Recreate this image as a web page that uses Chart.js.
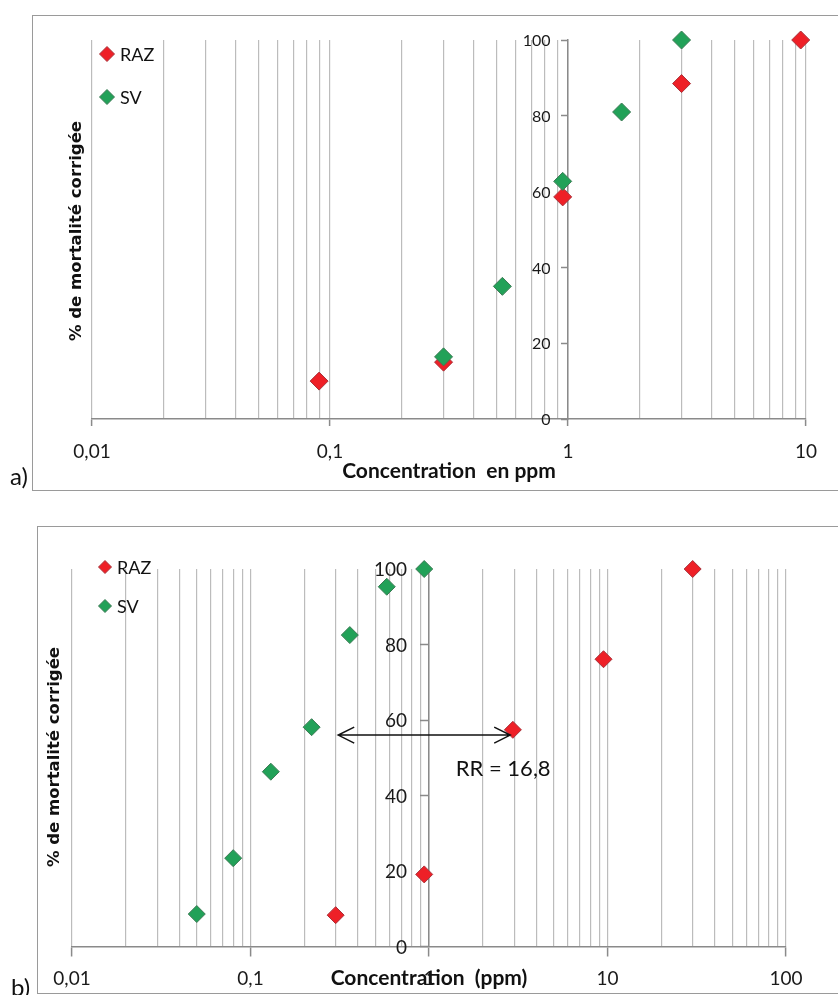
<!DOCTYPE html>
<html>
<head>
<meta charset="utf-8">
<script src="https://cdn.jsdelivr.net/npm/chart.js@4.4.1/dist/chart.umd.min.js"></script>
<style>
  body { margin: 0; background: #fff; width: 838px; height: 995px; overflow: hidden; position: relative; }
  .frame { position: absolute; border: 1.5px solid #9a9a9a; border-right: none; }
  canvas { position: absolute; left: 0; }
  .tag { position: absolute; font: 24px Lato, sans-serif; color: #111; }
</style>
</head>
<body>
<div class="frame" style="left:32px; top:15px; width:820px; height:474px;"></div>
<div class="frame" style="left:37px; top:526px; width:820px; height:466px;"></div>
<canvas id="chartA" width="838" height="495" style="top:0"></canvas>
<canvas id="chartB" width="838" height="495" style="top:500px"></canvas>
<div class="tag" style="left:10px; top:461px;">a)</div>
<div class="tag" style="left:11px; top:972px;">b)</div>

<script>
// Panel a) - concentration (ppm) vs corrected mortality (%)
const razA_x = [0.09, 0.3, 0.95, 3, 9.5];
const razA_y = [10, 15, 58.6, 88.5, 100];
const svA_x = [0.3, 0.53, 0.95, 1.68, 3];
const svA_y = [16.4, 35, 62.7, 81, 100];

// Panel b)
const razB_x = [0.3, 0.94, 2.95, 9.5, 30];
const razB_y = [8.3, 19.1, 57.4, 76.1, 100];
const svB_x = [0.05, 0.08, 0.13, 0.22, 0.36, 0.58, 0.94];
const svB_y = [8.6, 23.4, 46.3, 58.1, 82.5, 95.3, 100];

const seriesNames = ['RAZ', 'SV'];
const yTicks = [0, 20, 40, 60, 80, 100];
const xRangeA = [0.01, 10];
const xRangeB = [0.01, 100];

// resistance ratio arrow drawn on panel b)
const rrFrom = 0.31, rrTo = 2.85, rrLevel = 56;
const rrLabel = 'RR = 16,8';

const RED = '#ee2027', RED_EDGE = '#a8323a';
const GREEN = '#22a158', GREEN_EDGE = '#3d7a55';
const FONT = 'Lato, sans-serif';

function pairs(xs, ys) {
    return xs.map((x, i) => ({ x: x, y: ys[i] }));
}

function isPow10(v) {
    const l = Math.log10(v);
    return Math.abs(l - Math.round(l)) < 1e-6;
}

// keep only 1..9 x 10^n ticks (chart.js also adds 1.5 x 10^n)
function keepWholeSteps(scale) {
    scale.ticks = scale.ticks.filter(t => {
        const m = t.value / Math.pow(10, Math.floor(Math.log10(t.value) + 1e-9));
        return Math.abs(m - Math.round(m)) < 1e-6;
    });
}

function diamond(ctx, x, y, r, fill, edge) {
    ctx.beginPath();
    ctx.moveTo(x, y - r);
    ctx.lineTo(x + r, y);
    ctx.lineTo(x, y + r);
    ctx.lineTo(x - r, y);
    ctx.closePath();
    ctx.fillStyle = fill;
    ctx.fill();
    ctx.lineWidth = 1;
    ctx.strokeStyle = edge;
    ctx.stroke();
}

// y labels beside the crossing axis, legend, rotated y title and the RR arrow
function decorPlugin(cfg) {
    return {
        id: 'decor',
        beforeDatasetsDraw(chart) {
            const ctx = chart.ctx;
            const ys = chart.scales.y;
            const axisX = chart.scales.x.getPixelForValue(1);
            ctx.save();
            ctx.font = cfg.yFont + 'px ' + FONT;
            ctx.fillStyle = '#1a1a1a';
            ctx.textAlign = 'right';
            ctx.textBaseline = 'middle';
            ys.ticks.forEach(t => {
                ctx.fillText(String(t.value), axisX - cfg.yLabelGap, ys.getPixelForValue(t.value) + 1);
            });
            ctx.restore();
        },
        afterDraw(chart) {
            const ctx = chart.ctx;
            ctx.save();
            ctx.translate(cfg.yTitleX, cfg.yTitleY);
            ctx.rotate(-Math.PI / 2);
            ctx.font = 'bold ' + cfg.yTitleSize + 'px "DejaVu Sans", sans-serif';
            ctx.fillStyle = '#111';
            ctx.textAlign = 'center';
            ctx.textBaseline = 'middle';
            ctx.fillText('% de mortalité corrigée', 0, 0);
            ctx.restore();

            // legend
            ctx.save();
            ctx.font = cfg.legendSize + 'px ' + FONT;
            ctx.textBaseline = 'middle';
            ctx.textAlign = 'left';
            chart.data.datasets.forEach((ds, i) => {
                const y = cfg.legendY + i * cfg.legendGap;
                diamond(ctx, cfg.legendX, y, cfg.legendR, ds.backgroundColor, ds.borderColor);
                ctx.fillStyle = '#111';
                ctx.fillText(ds.label, cfg.legendX + cfg.legendTextDx, y + 1);
            });
            ctx.restore();

            if (cfg.arrow) {
                const xs = chart.scales.x, ys = chart.scales.y;
                const x1 = xs.getPixelForValue(rrFrom), x2 = xs.getPixelForValue(rrTo);
                const y = ys.getPixelForValue(rrLevel);
                ctx.save();
                ctx.strokeStyle = '#111';
                ctx.lineWidth = 1.5;
                ctx.beginPath();
                ctx.moveTo(x1, y); ctx.lineTo(x2, y);
                ctx.moveTo(x1 + 16, y - 8); ctx.lineTo(x1, y); ctx.lineTo(x1 + 16, y + 8);
                ctx.moveTo(x2 - 16, y - 8); ctx.lineTo(x2, y); ctx.lineTo(x2 - 16, y + 8);
                ctx.stroke();
                ctx.font = '22px ' + FONT;
                ctx.fillStyle = '#111';
                ctx.textAlign = 'center';
                ctx.textBaseline = 'middle';
                ctx.fillText(rrLabel, (x1 + x2) / 2 + 79, y + 34);
                ctx.restore();
            }
        }
    };
}

function makeChart(id, cfg) {
    return new Chart(document.getElementById(id), {
        type: 'scatter',
        data: {
            datasets: [
                { label: seriesNames[0], data: pairs(cfg.raz[0], cfg.raz[1]), pointStyle: 'rectRot',
                  pointRadius: cfg.r, backgroundColor: RED, borderColor: RED_EDGE, borderWidth: 1, order: 1 },
                { label: seriesNames[1], data: pairs(cfg.sv[0], cfg.sv[1]), pointStyle: 'rectRot',
                  pointRadius: cfg.r, backgroundColor: GREEN, borderColor: GREEN_EDGE, borderWidth: 1, order: 0 }
            ]
        },
        options: {
            responsive: false,
            animation: false,
            clip: false,
            layout: { padding: cfg.pad },
            plugins: { legend: { display: false }, tooltip: { enabled: false } },
            scales: {
                x: {
                    type: 'logarithmic',
                    min: cfg.xRange[0],
                    max: cfg.xRange[1],
                    afterBuildTicks: keepWholeSteps,
                    afterFit: s => { s.height = cfg.xH; },
                    grid: {
                        color: '#bcbcbc',
                        lineWidth: 1.2,
                        tickLength: cfg.xTickLen,
                        tickWidth: 1.5,
                        tickColor: c => (c.tick && isPow10(c.tick.value)) ? '#8a8a8a' : 'rgba(0,0,0,0)'
                    },
                    border: { display: true, color: '#8a8a8a', width: 1.5 },
                    ticks: {
                        autoSkip: false,
                        maxRotation: 0,
                        padding: cfg.xTickPad,
                        color: '#1a1a1a',
                        font: { family: FONT, size: 19 },
                        callback: v => isPow10(v) ? String(v).replace('.', ',') : ''
                    },
                    title: {
                        display: true,
                        text: cfg.xTitle,
                        color: '#111',
                        font: { family: FONT, size: 21, weight: 'bold' },
                        padding: { top: 0, bottom: cfg.xTitlePad }
                    }
                },
                y: {
                    min: 0,
                    max: 100,
                    position: { x: 1 },
                    afterBuildTicks: s => { s.ticks = yTicks.map(v => ({ value: v })); },
                    grid: { drawOnChartArea: false, tickLength: cfg.yTickLen, tickWidth: 1.5, tickColor: '#8a8a8a' },
                    border: { display: true, color: '#8a8a8a', width: 1.5 },
                    ticks: { display: false }
                }
            }
        },
        plugins: [decorPlugin(cfg)]
    });
}

makeChart('chartA', {
    raz: [razA_x, razA_y], sv: [svA_x, svA_y], r: 9,
    xRange: xRangeA,
    pad: { left: 92, right: 32, top: 40, bottom: 6 },
    xH: 70, xTickLen: 7, xTickPad: 14.5, xTitle: 'Concentration  en ppm', xTitlePad: 5,
    yTickLen: 6, yLabelGap: 17.5, yFont: 16,
    yTitleX: 77, yTitleY: 231, yTitleSize: 16.5,
    legendX: 107, legendY: 54, legendGap: 43, legendR: 7.5, legendTextDx: 13, legendSize: 18,
    arrow: false
});

makeChart('chartB', {
    raz: [razB_x, razB_y], sv: [svB_x, svB_y], r: 8.5,
    xRange: xRangeB,
    pad: { left: 72, right: 52, top: 69, bottom: 0.5 },
    xH: 48, xTickLen: 10, xTickPad: 10.5, xTitle: 'Concentration  (ppm)', xTitlePad: 4,
    yTickLen: 8, yLabelGap: 22, yFont: 19,
    yTitleX: 55, yTitleY: 257, yTitleSize: 16.5,
    legendX: 105, legendY: 67, legendGap: 39, legendR: 6.5, legendTextDx: 12, legendSize: 18,
    arrow: true
});
</script>
</body>
</html>
